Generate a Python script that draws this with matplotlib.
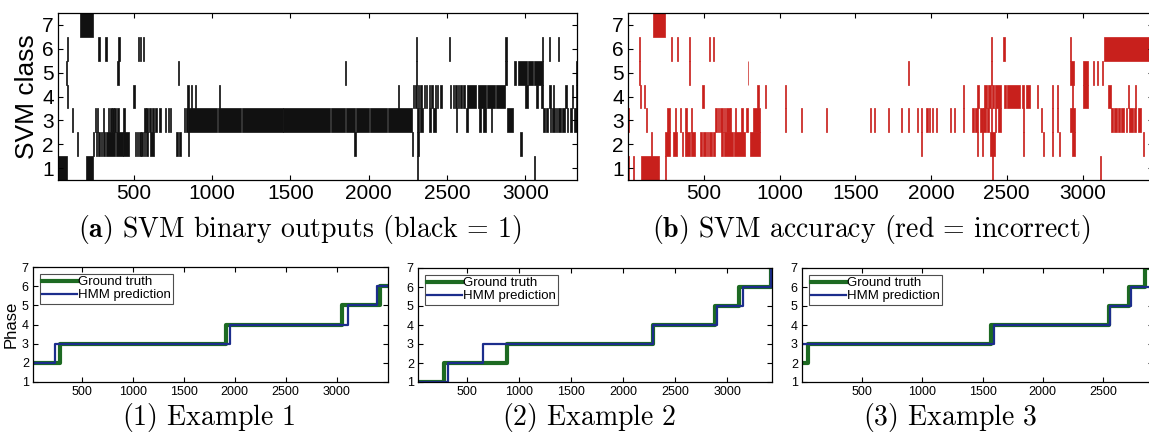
import matplotlib
matplotlib.use("Agg")
import matplotlib.pyplot as plt

plt.rcParams['font.family'] = ['Liberation Sans', 'DejaVu Sans']
plt.rcParams['mathtext.fontset'] = 'cm'

# ---- (a) SVM binary outputs: (start, width) of black runs per class ----
black_7 = [(158, 83)]
black_6 = [(71, 8), (273, 8), (317, 8), (400, 8), (524, 8), (540, 8), (555, 8),
           (2301, 8), (2511, 8), (2872, 10), (3108, 8), (3152, 8), (3208, 8)]
black_5 = [(66, 8), (395, 8), (781, 8), (1847, 8), (2301, 8), (2872, 10),
           (2930, 12), (2950, 60), (3018, 30), (3055, 60), (3323, 8)]
black_4 = [(73, 8), (493, 12), (842, 12), (862, 8), (890, 8), (1042, 8), (2188, 8),
           (2281, 8), (2295, 10), (2312, 8), (2328, 12), (2350, 8), (2365, 10),
           (2385, 8), (2400, 12), (2420, 8), (2435, 10), (2455, 12),
           (2518, 10), (2535, 8), (2550, 12), (2570, 8), (2585, 10), (2600, 15),
           (2628, 60), (2695, 55), (2757, 50), (2812, 60),
           (3000, 20), (3070, 10), (3100, 16), (3152, 10), (3175, 10),
           (3255, 8), (3299, 8), (3323, 8)]
black_3 = [(-10, 15), (102, 8), (249, 10), (265, 8), (302, 8), (334, 8), (347, 10),
           (362, 8), (375, 12), (395, 12), (432, 8), (566, 8), (580, 10), (598, 12),
           (618, 10), (635, 15), (660, 16), (700, 8), (715, 8), (730, 8), (817, 10),
           (835, 10), (848, 180), (1035, 150), (1190, 260), (1455, 300), (1760, 90),
           (1855, 60), (1920, 80), (2005, 110), (2120, 155),
           (2310, 12), (2330, 15), (2384, 15), (2410, 20), (2554, 8), (2623, 8),
           (2701, 15), (2730, 20), (2782, 8), (2884, 36),
           (3116, 10), (3135, 12), (3155, 10), (3172, 15), (3195, 8), (3210, 15),
           (3235, 20), (3265, 10), (3285, 15), (3310, 20)]
black_2 = [(0, 8), (134, 8), (237, 10), (255, 8), (273, 10), (290, 8), (305, 10),
           (322, 60), (388, 40), (432, 36), (505, 8), (518, 10), (535, 8), (548, 10),
           (565, 8), (578, 15), (600, 27), (768, 12), (790, 13), (846, 8),
           (1908, 8), (2274, 8), (2310, 8), (2969, 8), (3347, 8)]
black_1 = [(-3, 74), (195, 46), (2306, 8), (3055, 8)]

# ---- (b) SVM accuracy: (start, width) of incorrect runs per class ----
red_7 = [(164, 82)]
red_6 = [(72, 8), (282, 8), (323, 8), (403, 8), (533, 8), (562, 8),
         (2395, 8), (2477, 8), (2916, 8), (3143, 320)]
red_5 = [(72, 8), (403, 8), (789, 6), (1848, 8), (2395, 8), (2916, 30),
         (3000, 35), (3070, 8), (3095, 8), (3130, 8)]
red_4 = [(81, 8), (105, 6), (491, 13), (849, 15), (902, 8), (1033, 8), (2208, 8),
         (2304, 12), (2352, 15), (2375, 20), (2400, 15), (2420, 40), (2484, 12),
         (2500, 90), (2600, 15), (2625, 25), (2700, 8), (2796, 8), (2832, 8),
         (2928, 8), (3000, 35), (3167, 24), (3300, 8), (3348, 8)]
red_3 = [(0, 8), (120, 8), (257, 18), (308, 8), (341, 8), (374, 16), (414, 8),
         (573, 12), (592, 10), (610, 15), (632, 10), (650, 20), (675, 8), (705, 8),
         (749, 8), (782, 8), (827, 44), (1036, 8), (1141, 8), (1304, 8), (1597, 8),
         (1621, 8), (1717, 8), (1801, 8), (1849, 8), (1909, 8), (1933, 8),
         (1969, 8), (1985, 10), (2005, 8), (2030, 10), (2124, 8), (2150, 10),
         (2208, 8), (2268, 15), (2290, 20), (2320, 20), (2345, 19), (2370, 15),
         (2395, 10), (2420, 10), (2445, 15), (2604, 8), (2724, 8), (2796, 8),
         (2832, 8), (2916, 36), (3191, 10), (3210, 15), (3235, 10), (3255, 20),
         (3285, 10), (3305, 25), (3340, 15), (3365, 18)]
red_2 = [(154, 6), (246, 29), (297, 29), (357, 8), (374, 33), (418, 22), (474, 15),
         (495, 20), (520, 10), (535, 20), (560, 13), (617, 12), (634, 60), (700, 71),
         (805, 66), (1933, 8), (2304, 8), (2335, 8), (2388, 36), (2604, 8),
         (2736, 8), (2796, 8), (2844, 8), (2928, 24), (3400, 8)]
red_1 = [(3, 6), (32, 6), (87, 115), (246, 6), (2400, 8), (3114, 8)]

classes = [1, 2, 3, 4, 5, 6, 7]
black_runs = [black_1, black_2, black_3, black_4, black_5, black_6, black_7]
red_runs = [red_1, red_2, red_3, red_4, red_5, red_6, red_7]

# ---- phase examples: change points and phase levels (step, post) ----
ex1_gt_x = [1, 286, 1915, 3050, 3428, 3500]
ex1_gt_y = [2, 3, 4, 5, 6, 6]
ex1_hmm_x = [1, 237, 1957, 3115, 3395, 3500]
ex1_hmm_y = [2, 3, 4, 5, 6, 6]

ex2_gt_x = [1, 277, 880, 2284, 2887, 3116, 3422, 3430]
ex2_gt_y = [1, 2, 3, 4, 5, 6, 7, 7]
ex2_hmm_x = [1, 318, 659, 2284, 2903, 3154, 3422, 3430]
ex2_hmm_y = [1, 2, 3, 4, 5, 6, 7, 7]

ex3_gt_x = [1, 52, 1571, 2547, 2718, 2850, 2920]
ex3_gt_y = [2, 3, 4, 5, 6, 7, 7]
ex3_hmm_x = [1, 1599, 2561, 2732, 2920]
ex3_hmm_y = [3, 4, 5, 6, 6]

W, H = 1149, 433
fig = plt.figure(figsize=(W / 100, H / 100), dpi=100)


def box(l, t, r, b):
    return [l / W, 1 - b / H, (r - l) / W, (b - t) / H]


def matlab_axes(ax, size):
    ax.tick_params(direction='in', top=True, right=True, length=3.5,
                   width=0.8, labelsize=size, pad=3)
    for s in ax.spines.values():
        s.set_linewidth(0.9)


# top panels
ax_a = fig.add_axes(box(58, 13, 577, 180))
ax_b = fig.add_axes(box(628, 13, 1153, 180))
for ax, runs, col, xr in [(ax_a, black_runs, '#111111', (15, 3330)),
                          (ax_b, red_runs, '#c8201c', (0, 3465))]:
    for c, r in zip(classes, runs):
        ax.broken_barh(r, (c - 0.5, 1), facecolors=col, edgecolors=col,
                       linewidth=0.5)
    ax.set_xlim(*xr)
    ax.set_ylim(0.5, 7.5)
    ax.set_yticks(classes)
    ax.set_xticks([500, 1000, 1500, 2000, 2500, 3000])
    matlab_axes(ax, 15)
ax_a.set_ylabel('SVM class', fontsize=19, labelpad=2)

# bottom panels
gt_col = '#1d6a22'
hmm_col = '#1c2d8c'
panels = [
    (box(33, 267, 388, 382), ex1_gt_x, ex1_gt_y, ex1_hmm_x, ex1_hmm_y, (20, 3505),
     [500, 1000, 1500, 2000, 2500, 3000]),
    (box(418, 268, 772, 382), ex2_gt_x, ex2_gt_y, ex2_hmm_x, ex2_hmm_y, (30, 3430),
     [500, 1000, 1500, 2000, 2500, 3000]),
    (box(802, 268, 1153, 382), ex3_gt_x, ex3_gt_y, ex3_hmm_x, ex3_hmm_y, (1, 2915),
     [500, 1000, 1500, 2000, 2500]),
]
bottom_axes = []
for rect, gx, gy, hx, hy, xr, xt in panels:
    ax = fig.add_axes(rect)
    ax.step(gx, gy, where='post', color=gt_col, lw=3, label='Ground truth')
    ax.step(hx, hy, where='post', color=hmm_col, lw=1.6, label='HMM prediction')
    ax.set_xlim(*xr)
    ax.set_ylim(1, 7)
    ax.set_yticks(classes)
    ax.set_xticks(xt)
    matlab_axes(ax, 9)
    leg = ax.legend(loc='upper left', fontsize=9.5, frameon=True, fancybox=False,
                    handlelength=2.6, handletextpad=0.1, borderpad=0.2,
                    labelspacing=0.05, borderaxespad=0.5)
    leg.get_frame().set_edgecolor('#222222')
    leg.get_frame().set_linewidth(0.8)
    bottom_axes.append(ax)
bottom_axes[0].set_ylabel('Phase', fontsize=12, labelpad=2)

# captions
cap = dict(fontsize=20, family='cmr10', ha='center', va='center')
fig.text(300 / W, 1 - 229 / H, r'$\mathbf{(a)}$ SVM binary outputs (black = 1)', **cap)
fig.text(871 / W, 1 - 229 / H, r'$\mathbf{(b)}$ SVM accuracy (red = incorrect)', **cap)
fig.text(209 / W, 1 - 418 / H, r'$\mathbf{(1)}$ Example 1', **cap)
fig.text(589 / W, 1 - 418 / H, r'$\mathbf{(2)}$ Example 2', **cap)
fig.text(950 / W, 1 - 418 / H, r'$\mathbf{(3)}$ Example 3', **cap)

fig.savefig('out.png', dpi=100)
